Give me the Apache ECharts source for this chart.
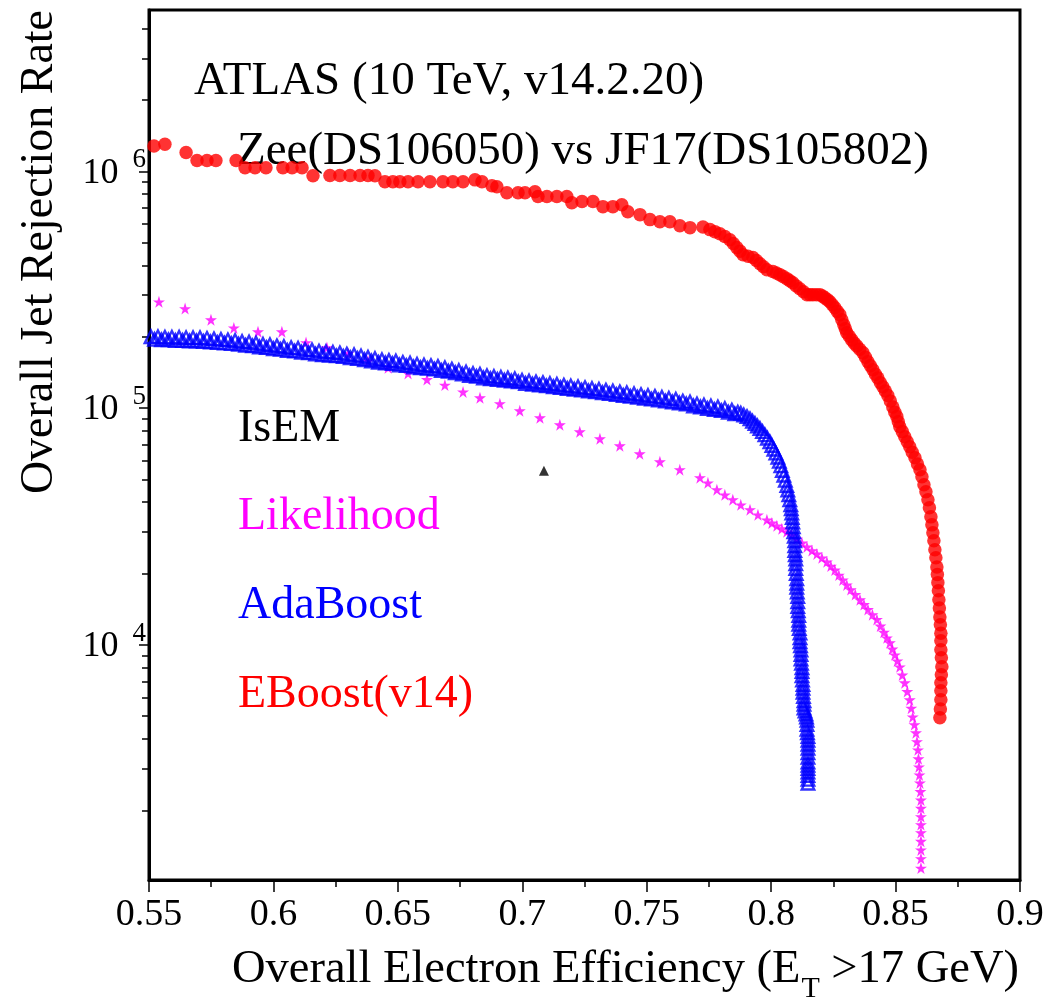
<!DOCTYPE html>
<html><head><meta charset="utf-8">
<script src="https://cdn.jsdelivr.net/npm/echarts@6/dist/echarts.min.js"></script>
<style>html,body{margin:0;padding:0;background:#fff}#c{width:1045px;height:1002px}</style>
</head><body><div id="c"></div>
<script>
const FONT = '"Liberation Serif","Times New Roman",serif';

// ---- data ----
const ebX = [0.5520,0.5564,0.5649,0.5693,0.5733,0.5769,0.5850,0.5886,0.5926,0.5970,0.6038,0.6075,0.6115,0.6159,0.6227,0.6267,0.6308,0.6348,0.6380,0.6408,0.6448,0.6480,0.6508,0.6541,0.6581,0.6629,0.6681,0.6721,0.6762,0.6810,0.6838,0.6878,0.6898,0.6938,0.6983,0.7011,0.7051,0.7063,0.7099,0.7139,0.7179,0.7199,0.7240,0.7284,0.7324,0.7364,0.7400,0.7424,0.7473,0.7513,0.7553,0.7593,0.7633,0.7674,0.7726,0.7754,0.7774,0.7794,0.7814,0.7834,0.7848,0.7862,0.7875,0.7887,0.7907,0.7927,0.7941,0.7955,0.7969,0.7983,0.8007,0.8021,0.8035,0.8049,0.8063,0.8075,0.8087,0.8101,0.8115,0.8130,0.8144,0.8156,0.8168,0.8182,0.8196,0.8206,0.8216,0.8226,0.8236,0.8246,0.8256,0.8266,0.8276,0.8284,0.8292,0.8298,0.8304,0.8314,0.8324,0.8334,0.8344,0.8356,0.8369,0.8379,0.8389,0.8399,0.8409,0.8419,0.8429,0.8439,0.8449,0.8459,0.8469,0.8479,0.8489,0.8497,0.8505,0.8511,0.8517,0.8527,0.8537,0.8547,0.8557,0.8567,0.8578,0.8588,0.8598,0.8606,0.8614,0.8622,0.8630,0.8636,0.8642,0.8646,0.8650,0.8654,0.8658,0.8662,0.8666,0.8668,0.8670,0.8672,0.8674,0.8676,0.8678,0.8680,0.8682,0.8682,0.8682,0.8684,0.8686,0.8684,0.8682,0.8682,0.8682,0.8680,0.8678];
const ebY = [1.28e6,1.30e6,1.20e6,1.11e6,1.11e6,1.11e6,1.11e6,1.035e6,1.035e6,1.035e6,1.035e6,1.035e6,1.035e6,9.58e5,9.6e5,9.6e5,9.6e5,9.6e5,9.6e5,9.58e5,9.04e5,9.04e5,9.04e5,9.04e5,9.04e5,9.04e5,9.04e5,9.04e5,9.04e5,9.2e5,9.04e5,8.69e5,8.6e5,8.12e5,8.12e5,8.12e5,8.2e5,7.82e5,7.82e5,7.82e5,7.82e5,7.37e5,7.45e5,7.45e5,7.09e5,7.09e5,7.22e5,6.75e5,6.56e5,6.25e5,6.12e5,6.12e5,5.89e5,5.78e5,5.82e5,5.67e5,5.56e5,5.45e5,5.30e5,5.14e5,4.95e5,4.76e5,4.60e5,4.44e5,4.38e5,4.32e5,4.20e5,4.07e5,3.95e5,3.84e5,3.77e5,3.72e5,3.66e5,3.59e5,3.52e5,3.45e5,3.38e5,3.28e5,3.19e5,3.10e5,3.01e5,3.01e5,3.01e5,3.01e5,3.01e5,2.97e5,2.92e5,2.87e5,2.81e5,2.73e5,2.65e5,2.56e5,2.48e5,2.36e5,2.25e5,2.16e5,2.08e5,2.01e5,1.94e5,1.88e5,1.83e5,1.77e5,1.71e5,1.64e5,1.57e5,1.51e5,1.45e5,1.39e5,1.34e5,1.28e5,1.23e5,1.18e5,1.13e5,1.07e5,1.01e5,9.6e4,9.2e4,8.75e4,8.33e4,7.95e4,7.56e4,7.2e4,6.86e4,6.5e4,6.16e4,5.8e4,5.49e4,5.13e4,4.74e4,4.43e4,4.10e4,3.79e4,3.47e4,3.21e4,2.97e4,2.75e4,2.52e4,2.33e4,2.13e4,1.98e4,1.83e4,1.69e4,1.55e4,1.43e4,1.31e4,1.215e4,1.12e4,1.04e4,9.53e3,8.81e3,8.07e3,7.47e3,6.91e3,6.39e3,5.86e3,5.36e3,4.92e3];

const adaX = [0.5508,0.5536,0.5564,0.5592,0.5621,0.5649,0.5677,0.5705,0.5733,0.5761,0.5789,0.5817,0.5846,0.5874,0.5902,0.5930,0.5958,0.5986,0.6014,0.6042,0.6071,0.6099,0.6127,0.6155,0.6183,0.6211,0.6239,0.6267,0.6295,0.6324,0.6352,0.6380,0.6408,0.6436,0.6464,0.6492,0.6520,0.6549,0.6577,0.6605,0.6633,0.6661,0.6689,0.6717,0.6745,0.6774,0.6802,0.6830,0.6858,0.6886,0.6914,0.6942,0.6970,0.6999,0.7027,0.7055,0.7083,0.7111,0.7139,0.7167,0.7195,0.7224,0.7252,0.7280,0.7308,0.7336,0.7364,0.7392,0.7420,0.7449,0.7477,0.7505,0.7533,0.7561,0.7589,0.7617,0.7645,0.7674,0.7702,0.7730,0.7758,0.7786,0.7814,0.7842,0.7866,0.7878,0.7890,0.7903,0.7915,0.7925,0.7935,0.7945,0.7955,0.7965,0.7975,0.7985,0.7995,0.8003,0.8011,0.8019,0.8027,0.8033,0.8039,0.8045,0.8051,0.8057,0.8063,0.8067,0.8071,0.8075,0.8079,0.8081,0.8083,0.8085,0.8087,0.8089,0.8091,0.8093,0.8095,0.8095,0.8095,0.8097,0.8099,0.8099,0.8099,0.8101,0.8103,0.8103,0.8103,0.8105,0.8107,0.8107,0.8107,0.8109,0.8111,0.8111,0.8111,0.8113,0.8116,0.8116,0.8116,0.8118,0.8120,0.8120,0.8120,0.8122,0.8124,0.8124,0.8124,0.8126,0.8128,0.8128,0.8128,0.8130,0.8132,0.8132,0.8132,0.8136,0.8140,0.8142,0.8144,0.8144,0.8144,0.8146,0.8148,0.8148,0.8148,0.8148,0.8148,0.8148,0.8148,0.8148,0.8148,0.8148,0.8148,0.8148,0.8148];
const adaY = [2.00e5,2.00e5,1.99e5,1.99e5,1.99e5,1.98e5,1.98e5,1.98e5,1.97e5,1.96e5,1.95e5,1.94e5,1.93e5,1.91e5,1.90e5,1.88e5,1.86e5,1.85e5,1.83e5,1.82e5,1.80e5,1.79e5,1.77e5,1.76e5,1.74e5,1.73e5,1.72e5,1.71e5,1.69e5,1.68e5,1.66e5,1.64e5,1.62e5,1.60e5,1.59e5,1.58e5,1.56e5,1.55e5,1.53e5,1.52e5,1.51e5,1.50e5,1.48e5,1.46e5,1.44e5,1.42e5,1.40e5,1.39e5,1.37e5,1.36e5,1.35e5,1.34e5,1.33e5,1.31e5,1.30e5,1.29e5,1.28e5,1.27e5,1.26e5,1.25e5,1.24e5,1.23e5,1.22e5,1.21e5,1.20e5,1.19e5,1.18e5,1.17e5,1.16e5,1.15e5,1.14e5,1.13e5,1.12e5,1.11e5,1.10e5,1.09e5,1.07e5,1.06e5,1.04e5,1.03e5,1.02e5,1.01e5,9.95e4,9.8e4,9.6e4,9.5e4,9.35e4,9.2e4,9.0e4,8.8e4,8.6e4,8.4e4,8.2e4,7.95e4,7.7e4,7.45e4,7.2e4,6.95e4,6.7e4,6.45e4,6.2e4,5.95e4,5.7e4,5.45e4,5.2e4,4.95e4,4.7e4,4.5e4,4.3e4,4.1e4,3.9e4,3.75e4,3.6e4,3.45e4,3.3e4,3.15e4,3.0e4,2.87e4,2.75e4,2.62e4,2.5e4,2.4e4,2.3e4,2.2e4,2.1e4,2.0e4,1.9e4,1.82e4,1.75e4,1.67e4,1.6e4,1.52e4,1.45e4,1.39e4,1.33e4,1.27e4,1.22e4,1.17e4,1.12e4,1.07e4,1.03e4,9.9e3,9.5e3,9.1e3,8.7e3,8.35e3,8.0e3,7.7e3,7.4e3,7.1e3,6.8e3,6.55e3,6.3e3,6.05e3,5.8e3,5.6e3,5.4e3,5.25e3,5.1e3,4.95e3,4.8e3,4.6e3,4.4e3,4.25e3,4.1e3,3.95e3,3.8e3,3.65e3,3.5e3,3.35e3,3.2e3,3.1e3,3.0e3,2.9e3,2.8e3,2.7e3,2.6e3];
// second (lower) row of AdaBoost triangles along the flat part
const adaX2 = [0.5522,0.5550,0.5578,0.5606,0.5635,0.5663,0.5691,0.5719,0.5747,0.5775,0.5803,0.5831,0.5860,0.5888,0.5916,0.5944,0.5972,0.6000,0.6028,0.6056,0.6085,0.6113,0.6141,0.6169,0.6197,0.6225,0.6253,0.6281,0.6309,0.6338,0.6366,0.6394,0.6422,0.6450,0.6478,0.6506,0.6534,0.6563,0.6591,0.6619,0.6647,0.6675,0.6703,0.6731,0.6759,0.6788,0.6816,0.6844,0.6872,0.6900,0.6928,0.6956,0.6984,0.7013,0.7041,0.7069,0.7097,0.7125,0.7153,0.7181,0.7209,0.7238,0.7266,0.7294,0.7322,0.7350,0.7378,0.7406,0.7434,0.7463,0.7491,0.7519,0.7547,0.7575,0.7603,0.7631,0.7659,0.7688,0.7716,0.7744,0.7772,0.7800,0.7828,0.7854];
const adaY2 = [1.95e5,1.94e5,1.94e5,1.93e5,1.93e5,1.92e5,1.92e5,1.91e5,1.90e5,1.89e5,1.88e5,1.87e5,1.86e5,1.84e5,1.83e5,1.81e5,1.80e5,1.78e5,1.77e5,1.75e5,1.74e5,1.72e5,1.71e5,1.69e5,1.68e5,1.67e5,1.66e5,1.65e5,1.63e5,1.62e5,1.60e5,1.58e5,1.56e5,1.55e5,1.54e5,1.52e5,1.51e5,1.49e5,1.48e5,1.47e5,1.46e5,1.44e5,1.43e5,1.41e5,1.39e5,1.37e5,1.36e5,1.34e5,1.33e5,1.32e5,1.31e5,1.30e5,1.29e5,1.27e5,1.26e5,1.25e5,1.24e5,1.23e5,1.22e5,1.21e5,1.20e5,1.19e5,1.18e5,1.17e5,1.16e5,1.15e5,1.14e5,1.13e5,1.12e5,1.11e5,1.10e5,1.09e5,1.08e5,1.07e5,1.06e5,1.05e5,1.04e5,1.02e5,1.01e5,9.95e4,9.85e4,9.75e4,9.6e4,9.45e4];

const likeX = [0.5540,0.5645,0.5749,0.5841,0.5938,0.6034,0.6131,0.6215,0.6300,0.6380,0.6461,0.6541,0.6617,0.6689,0.6762,0.6830,0.6910,0.6990,0.7071,0.7151,0.7231,0.7312,0.7392,0.7472,0.7553,0.7633,0.7714,0.7746,0.7782,0.7814,0.7846,0.7878,0.7915,0.7947,0.7983,0.8003,0.8023,0.8043,0.8063,0.8083,0.8103,0.8124,0.8144,0.8164,0.8184,0.8204,0.8224,0.8240,0.8256,0.8272,0.8288,0.8304,0.8320,0.8338,0.8357,0.8373,0.8389,0.8407,0.8425,0.8439,0.8453,0.8465,0.8477,0.8487,0.8497,0.8507,0.8517,0.8527,0.8537,0.8547,0.8557,0.8563,0.8569,0.8576,0.8582,0.8586,0.8590,0.8592,0.8594,0.8596,0.8598,0.8600,0.8602,0.8602,0.8602,0.8602,0.8602,0.8602,0.8602,0.8602,0.8602];
const likeY = [2.81e5,2.63e5,2.36e5,2.18e5,2.10e5,2.10e5,1.89e5,1.80e5,1.70e5,1.58e5,1.48e5,1.40e5,1.32e5,1.25e5,1.17e5,1.105e5,1.043e5,9.74e4,9.10e4,8.50e4,7.94e4,7.42e4,6.93e4,6.41e4,5.93e4,5.49e4,5.08e4,4.83e4,4.52e4,4.30e4,4.10e4,3.90e4,3.72e4,3.54e4,3.37e4,3.27e4,3.18e4,3.09e4,3.00e4,2.90e4,2.80e4,2.69e4,2.59e4,2.50e4,2.42e4,2.33e4,2.24e4,2.15e4,2.07e4,1.97e4,1.88e4,1.79e4,1.71e4,1.63e4,1.55e4,1.48e4,1.41e4,1.34e4,1.28e4,1.20e4,1.13e4,1.07e4,1.02e4,9.6e3,9.07e3,8.55e3,8.07e3,7.45e3,6.91e3,6.35e3,5.86e3,5.40e3,4.96e3,4.60e3,4.25e3,3.90e3,3.60e3,3.30e3,3.05e3,2.82e3,2.61e3,2.40e3,2.21e3,2.04e3,1.88e3,1.74e3,1.61e3,1.48e3,1.36e3,1.25e3,1.14e3];

const isemX = [0.7087];
const isemY = [5.43e4];

const xTicks = [0.55,0.6,0.65,0.7,0.75,0.8,0.85,0.9];
const xTickLabels = ['0.55','0.6','0.65','0.7','0.75','0.8','0.85','0.9'];
const yMajor = [1e4,1e5,1e6];
const yMajorExp = ['4','5','6'];
const yMinor = [2e3,3e3,4e3,5e3,6e3,7e3,8e3,9e3,2e4,3e4,4e4,5e4,6e4,7e4,8e4,9e4,2e5,3e5,4e5,5e5,6e5,7e5,8e5,9e5,2e6,3e6,4e6];

const seriesNames = ['IsEM','Likelihood','AdaBoost','EBoost(v14)'];
const seriesColors = ['#000000','#ff00ff','#0000ff','#ff0000'];

// ---- chart ----
const zip = (xs, ys) => xs.map((x, i) => [x, ys[i]]);
const starPath = 'path://M50,0 L61.2,34.5 L97.6,34.5 L68.2,55.9 L79.4,90.5 L50,69.1 L20.6,90.5 L31.8,55.9 L2.4,34.5 L38.8,34.5 Z';
const chart = echarts.init(document.getElementById('c'), null, {renderer: 'canvas'});

const yMin = 1015, yMax = 4.8e6;
const tickLine = {color: '#000', width: 1.5};

const option = {
  animation: false,
  backgroundColor: '#ffffff',
  textStyle: {fontFamily: FONT},
  grid: {left: 149, right: 25, top: 10, bottom: 122, show: true, borderColor: '#000', borderWidth: 3,
         backgroundColor: 'transparent', containLabel: false, outerBoundsMode: 'none'},
  xAxis: {
    type: 'value', min: 0.55, max: 0.9, interval: 0.05,
    axisLine: {show: true, onZero: false, lineStyle: {color: '#000', width: 3}},
    axisTick: {show: true, inside: false, length: 12, lineStyle: tickLine},
    minorTick: {show: true, splitNumber: 2, length: 7, lineStyle: tickLine},
    splitLine: {show: false}, minorSplitLine: {show: false},
    axisLabel: {
      margin: 16, fontFamily: FONT, fontSize: 38, color: '#000',
      formatter: v => { const i = xTicks.findIndex(t => Math.abs(t - v) < 1e-9); return i >= 0 ? xTickLabels[i] : ''; }
    },
    name: '{a|Overall Electron Efficiency (E}{sub|T}{a| >17 GeV)}',
    nameLocation: 'end', nameGap: -1, nameMoveOverlap: false,
    nameTextStyle: {
      align: 'right', verticalAlign: 'top', padding: [67, 0, 0, 0],
      rich: {
        a: {fontFamily: FONT, fontSize: 46.5, lineHeight: 46, color: '#000'},
        sub: {fontFamily: FONT, fontSize: 30, lineHeight: 30, padding: [38, 0, 0, 1], color: '#000'}
      }
    }
  },
  yAxis: [{
    type: 'log', logBase: 10, min: yMin, max: yMax,
    axisLine: {show: true, onZero: false, lineStyle: {color: '#000', width: 3}},
    axisTick: {show: true, inside: false, length: 10, customValues: yMajor, lineStyle: tickLine},
    splitLine: {show: false}, minorTick: {show: false},
    axisLabel: {
      customValues: yMajor, margin: 3,
      formatter: v => { const i = yMajor.findIndex(t => Math.abs(Math.log10(t) - Math.log10(v)) < 1e-6); return i >= 0 ? '{b|10}{s|' + yMajorExp[i] + '}' : ''; },
      rich: {
        b: {fontFamily: FONT, fontSize: 36, lineHeight: 36, padding: [4, 0, 0, 0], color: '#000'},
        s: {fontFamily: FONT, fontSize: 27, lineHeight: 27, padding: [0, 0, 22, 14], color: '#000'}
      }
    },
    name: 'Overall Jet Rejection Rate',
    nameLocation: 'end', nameGap: 0, nameRotate: 90, nameMoveOverlap: false,
    nameTextStyle: {fontFamily: FONT, fontSize: 46, lineHeight: 46, color: '#000',
                    align: 'right', verticalAlign: 'bottom', padding: [0, 0, 86, 0]}
  }, {
    type: 'log', logBase: 10, min: yMin, max: yMax, position: 'left', offset: 0,
    axisLine: {show: false},
    axisTick: {show: true, inside: false, length: 7, customValues: yMinor, lineStyle: tickLine},
    axisLabel: {show: false}, splitLine: {show: false}
  }],
  legend: {
    orient: 'vertical', left: 232, top: 406, padding: 0, itemGap: 42,
    itemWidth: 0, itemHeight: 46, icon: 'rect', itemStyle: {opacity: 0},
    selectedMode: false,
    textStyle: {fontFamily: FONT, fontSize: 46, lineHeight: 46},
    data: seriesNames.map((n, i) => ({name: n, icon: 'rect', itemStyle: {opacity: 0}, textStyle: {color: seriesColors[i]}}))
  },
  graphic: [
    {type: 'text', x: 194, y: 82, silent: true,
     style: {text: 'ATLAS (10 TeV, v14.2.20)', fill: '#000', fontFamily: FONT, fontSize: 47, verticalAlign: 'middle', align: 'left'}},
    {type: 'text', x: 237, y: 152, silent: true,
     style: {text: 'Zee(DS106050) vs JF17(DS105802)', fill: '#000', fontFamily: FONT, fontSize: 47, verticalAlign: 'middle', align: 'left'}}
  ],
  series: [
    {name: 'Likelihood', type: 'scatter', data: zip(likeX, likeY), symbol: starPath, symbolSize: 12,
     itemStyle: {color: seriesColors[1]}, z: 2},
    {name: 'AdaBoost', type: 'scatter', data: zip(adaX, adaY).concat(zip(adaX2, adaY2)), symbol: 'triangle', symbolSize: 12.5,
     itemStyle: {color: 'rgba(0,0,0,0)', borderColor: seriesColors[2], borderWidth: 2.4}, z: 3},
    {name: 'EBoost(v14)', type: 'scatter', data: zip(ebX, ebY), symbol: 'circle', symbolSize: 13.5,
     itemStyle: {color: seriesColors[3]}, z: 4},
    {name: 'IsEM', type: 'scatter', data: zip(isemX, isemY), symbol: 'triangle', symbolSize: 10,
     itemStyle: {color: seriesColors[0]}, z: 5}
  ]
};
chart.setOption(option);
</script>
</body></html>
